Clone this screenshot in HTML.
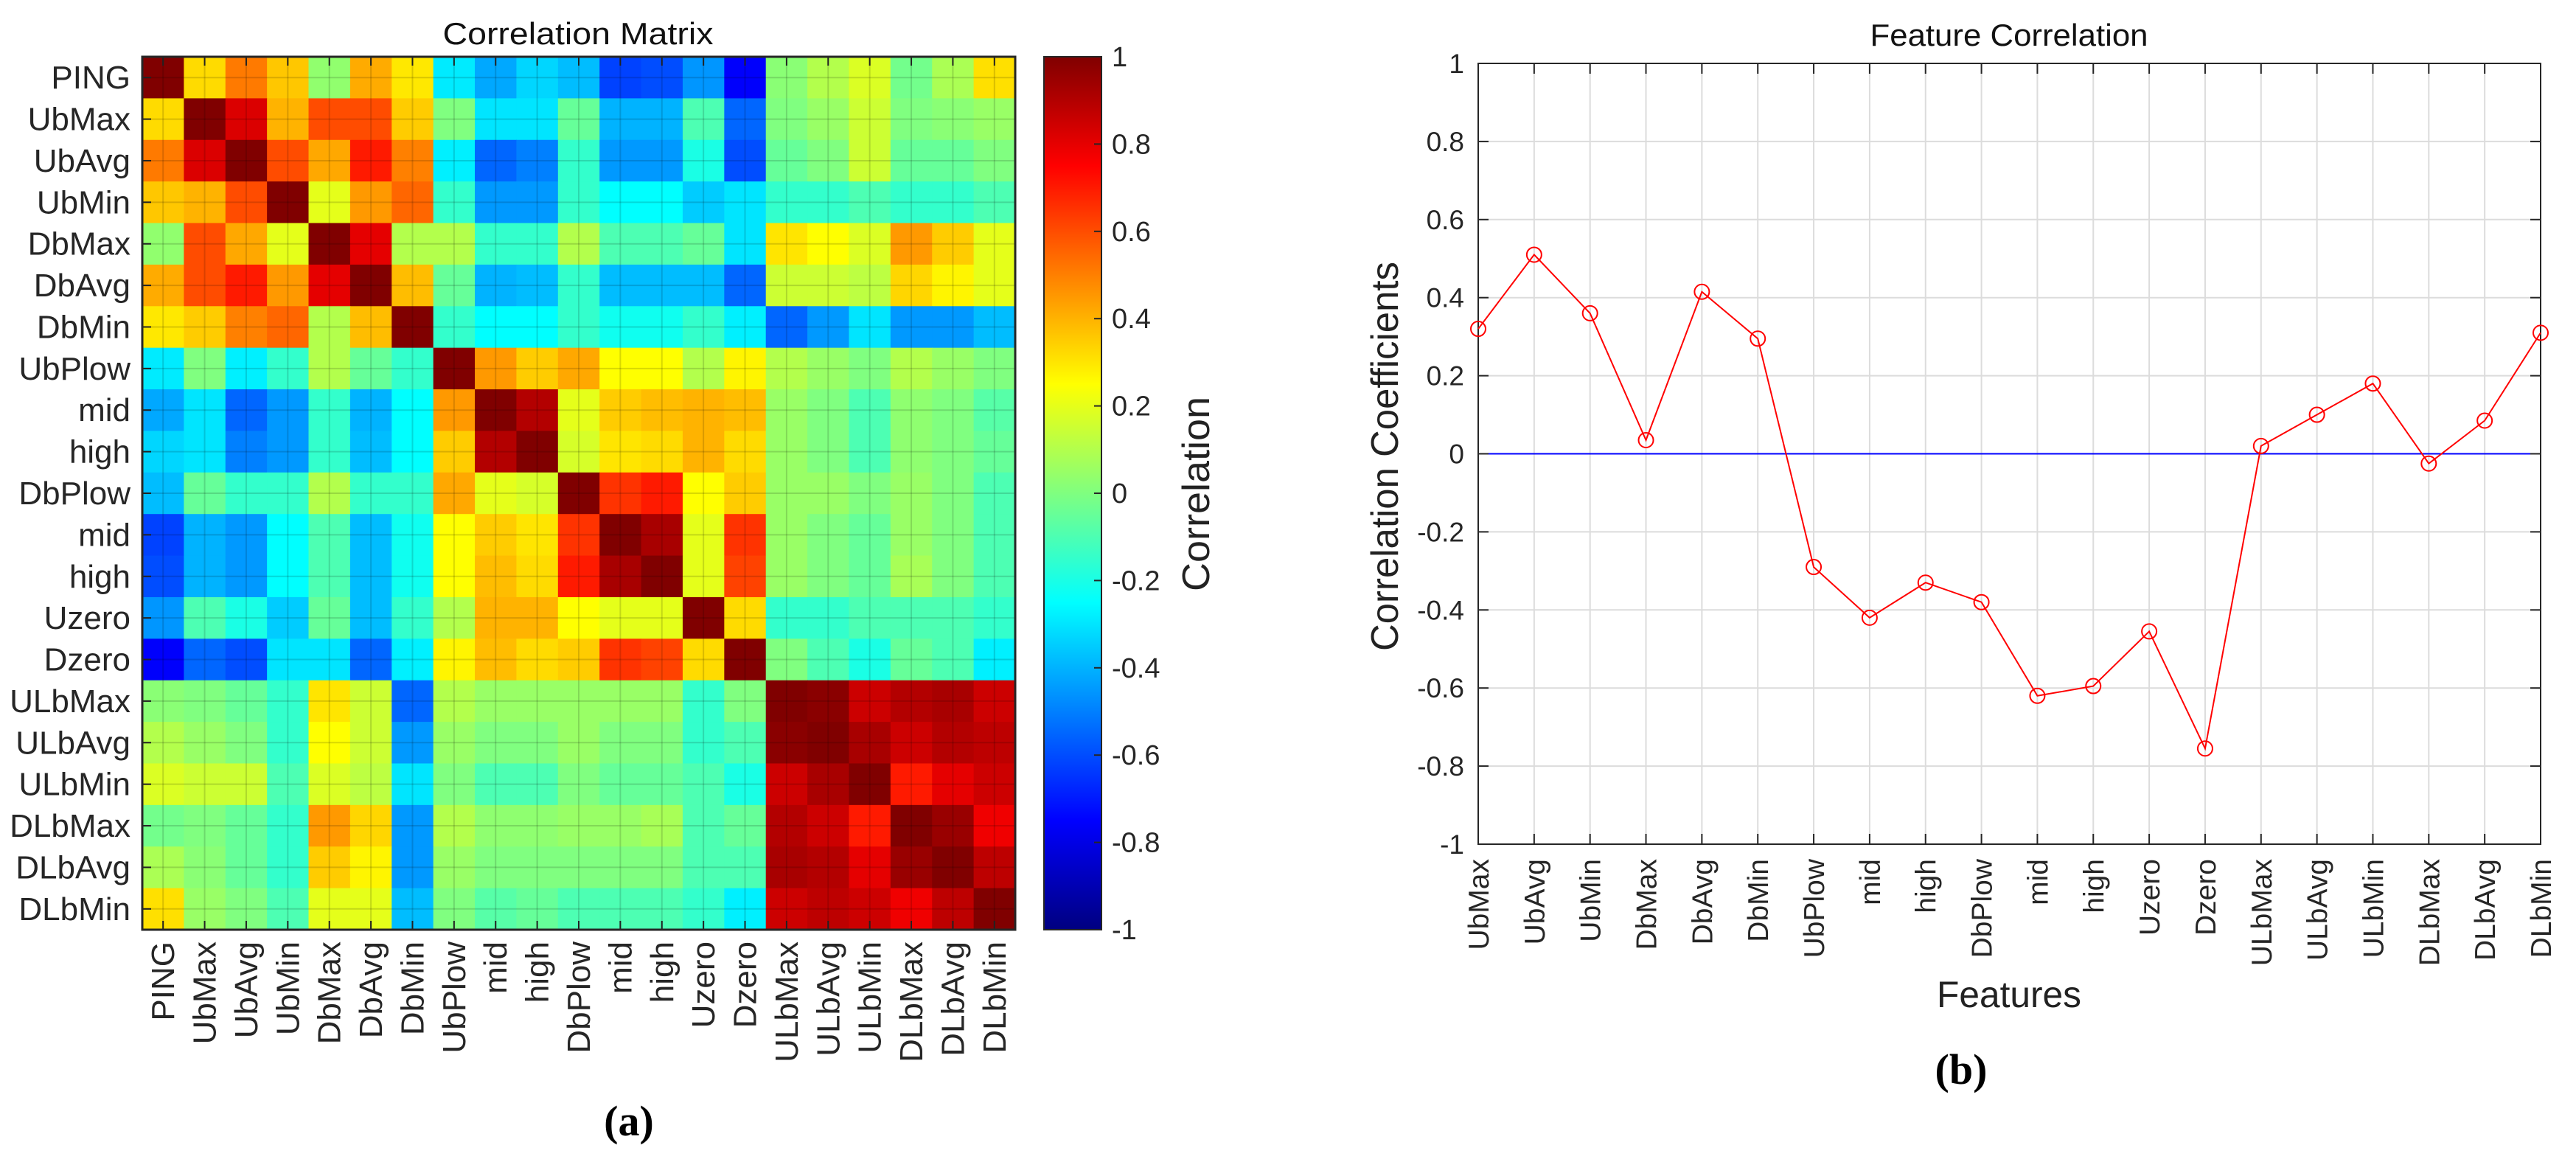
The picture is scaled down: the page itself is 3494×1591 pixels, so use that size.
<!DOCTYPE html>
<html><head><meta charset="utf-8"><style>
html,body{margin:0;padding:0;background:#fff;}
svg{display:block;font-family:"Liberation Sans",Arial,sans-serif;}
</style></head><body>
<svg id="fig" width="3494" height="1591" viewBox="0 0 3494 1591" xmlns="http://www.w3.org/2000/svg">
<defs>
<linearGradient id="jet" x1="0" y1="1" x2="0" y2="0">
<stop offset="0" stop-color="#000080"/><stop offset="0.125" stop-color="#0000ff"/><stop offset="0.375" stop-color="#00ffff"/><stop offset="0.625" stop-color="#ffff00"/><stop offset="0.875" stop-color="#ff0000"/><stop offset="1" stop-color="#800000"/>
</linearGradient>
</defs>
<g id="heat"></g>
<g id="cbar"></g>
<g id="line"></g>
<text x="784" y="60" font-size="42" text-anchor="middle" fill="#111" textLength="367" lengthAdjust="spacingAndGlyphs">Correlation Matrix</text>
<text transform="translate(1640,670) rotate(-90)" font-size="52" text-anchor="middle" fill="#222" textLength="264" lengthAdjust="spacingAndGlyphs">Correlation</text>
<text x="853" y="1540" font-size="58" font-weight="bold" text-anchor="middle" font-family="Liberation Serif,serif">(a)</text>
<text x="2725" y="62" font-size="42" text-anchor="middle" fill="#111" textLength="377" lengthAdjust="spacingAndGlyphs">Feature Correlation</text>
<text transform="translate(1896,619) rotate(-90)" font-size="52" text-anchor="middle" fill="#222" textLength="528" lengthAdjust="spacingAndGlyphs">Correlation Coefficients</text>
<text x="2725" y="1366" font-size="50" text-anchor="middle" fill="#222" textLength="196" lengthAdjust="spacingAndGlyphs">Features</text>
<text x="2660" y="1470" font-size="58" font-weight="bold" text-anchor="middle" font-family="Liberation Serif,serif">(b)</text>
</svg>
<script>
const NS="http://www.w3.org/2000/svg";
const heatLabels=["PING","UbMax","UbAvg","UbMin","DbMax","DbAvg","DbMin","UbPlow","mid","high","DbPlow","mid","high","Uzero","Dzero","ULbMax","ULbAvg","ULbMin","DLbMax","DLbAvg","DLbMin"];
const lowerTri=[
[1],
[.32,1],
[.51,.82,1],
[.36,.4,.6,1],
[.035,.6,.42,.2,1],
[.415,.6,.7,.45,.8,1],
[.295,.35,.5,.55,.1,.38,1],
[-.29,0,-.28,-.15,.1,-.05,-.15,1],
[-.42,-.3,-.55,-.45,-.15,-.4,-.25,.45,1],
[-.33,-.3,-.5,-.45,-.15,-.38,-.25,.35,.9,1],
[-.38,-.05,-.15,-.15,.1,-.15,-.15,.42,.2,.17,1],
[-.62,-.4,-.45,-.25,-.1,-.38,-.22,.25,.35,.3,.65,1],
[-.6,-.4,-.45,-.25,-.1,-.38,-.22,.25,.38,.32,.7,.92,1],
[-.455,-.1,-.2,-.35,-.05,-.38,-.15,.1,.4,.4,.25,.2,.2,1],
[-.755,-.55,-.6,-.3,-.3,-.55,-.28,.27,.38,.32,.35,.65,.62,.32,1],
[.02,0,-.05,-.15,.3,.15,-.55,.1,.05,.05,.05,.05,.05,-.15,0,1],
[.1,.05,0,-.15,.25,.15,-.45,.05,0,0,.05,0,0,-.15,-.1,.98,1],
[.18,.15,.15,-.1,.18,.12,-.3,0,-.1,-.1,0,-.05,-.05,-.1,-.2,.85,.92,1],
[-.025,0,-.05,-.15,.45,.33,-.45,.1,.03,.03,.05,.05,.08,-.1,-.05,.9,.85,.7,1],
[.085,.02,-.05,-.15,.35,.27,-.45,.05,0,0,0,0,0,-.1,-.1,.92,.9,.8,.95,1],
[.31,.05,0,-.1,.2,.2,-.38,0,-.08,-.05,-.1,-.1,-.1,-.15,-.28,.85,.88,.85,.78,.88,1]];
const cbarTicks=[1,0.8,0.6,0.4,0.2,0,-0.2,-0.4,-0.6,-0.8,-1];
const cbarTickLabels=["1","0.8","0.6","0.4","0.2","0","-0.2","-0.4","-0.6","-0.8","-1"];
const featCats=["UbMax","UbAvg","UbMin","DbMax","DbAvg","DbMin","UbPlow","mid","high","DbPlow","mid","high","Uzero","Dzero","ULbMax","ULbAvg","ULbMin","DLbMax","DLbAvg","DLbMin"];
const featValues=[0.32,0.51,0.36,0.035,0.415,0.295,-0.29,-0.42,-0.33,-0.38,-0.62,-0.595,-0.455,-0.755,0.02,0.10,0.18,-0.025,0.085,0.31];
const yTicks=[1,0.8,0.6,0.4,0.2,0,-0.2,-0.4,-0.6,-0.8,-1];
const yTickLabels=["1","0.8","0.6","0.4","0.2","0","-0.2","-0.4","-0.6","-0.8","-1"];

function mk(tag,attrs,parent,text){const e=document.createElementNS(NS,tag);for(const k in attrs)e.setAttribute(k,attrs[k]);if(text!==undefined)e.textContent=text;parent.appendChild(e);return e;}
function jet(v){const t=(v+1)/2;const c=x=>Math.max(0,Math.min(1,x));
 const r=c(Math.min(4*t-1.5,-4*t+4.5)),g=c(Math.min(4*t-0.5,-4*t+3.5)),b=c(Math.min(4*t+0.5,-4*t+2.5));
 return `rgb(${Math.round(r*255)},${Math.round(g*255)},${Math.round(b*255)})`;}
function corr(i,j){return i>=j?lowerTri[i][j]:lowerTri[j][i];}

// heatmap
const heat=document.getElementById('heat');
const HX=193,HY=77,HS=1184,n=heatLabels.length,cs=HS/n;
const hx=j=>HX+j*cs, hy=i=>HY+i*cs;
for(let i=0;i<n;i++)for(let j=0;j<n;j++){
 const r=mk('rect',{x:hx(j),y:hy(i),width:cs+0.6,height:cs+0.6,fill:jet(corr(i,j))},heat);
 
 
}
for(let k=0;k<n;k++){
 const c=hx(k)+cs/2, cy=hy(k)+cs/2;
 mk('line',{x1:c,y1:HY,x2:c,y2:HY+HS,stroke:'#000','stroke-opacity':0.15,'stroke-width':2},heat);
 mk('line',{x1:HX,y1:cy,x2:HX+HS,y2:cy,stroke:'#000','stroke-opacity':0.15,'stroke-width':2},heat);
 mk('line',{x1:HX,y1:cy,x2:HX+12,y2:cy,stroke:'#222','stroke-width':2},heat);
 mk('line',{x1:c,y1:HY+HS,x2:c,y2:HY+HS-12,stroke:'#222','stroke-width':2},heat);
 mk('line',{x1:c,y1:HY,x2:c,y2:HY+12,stroke:'#222','stroke-width':2},heat);
 const yl=mk('text',{x:HX-16,y:cy+15,'font-size':44,'text-anchor':'end',fill:'#262626'},heat,heatLabels[k]);
 
 
 const xl=mk('text',{transform:`translate(${c+15},${HY+HS+16}) rotate(-90)`,'font-size':44,'text-anchor':'end',fill:'#262626'},heat,heatLabels[k]);
 
 
}
mk('rect',{x:HX,y:HY,width:HS,height:HS,fill:'none',stroke:'#262626','stroke-width':3},heat);

// colorbar
const cb=document.getElementById('cbar');
const CX=1416,CW=78,CY=77,CH=1184;
const cyv=v=>CY+(1-v)/2*CH;
mk('rect',{x:CX,y:CY,width:CW,height:CH,fill:'url(#jet)',stroke:'#262626','stroke-width':2},cb);
cbarTicks.forEach((v,k)=>{
 mk('line',{x1:CX+CW-10,y1:cyv(v),x2:CX+CW,y2:cyv(v),stroke:'#262626','stroke-width':2},cb);
 const t=mk('text',{x:1508,y:cyv(v)+13,'font-size':38,fill:'#262626'},cb,cbarTickLabels[k]);
 
 
});

// line chart
const lc=document.getElementById('line');
const PX=2005,PR=3446,PY=86,PB=1145;
const xs=i=>PX+i*(PR-PX)/(featCats.length-1);
const ys=v=>PY+(1-v)/2*(PB-PY);
featCats.forEach((c,i)=>{mk('line',{x1:xs(i),y1:PY,x2:xs(i),y2:PB,stroke:'#dcdcdc','stroke-width':2},lc);});
yTicks.forEach(v=>{mk('line',{x1:PX,y1:ys(v),x2:PR,y2:ys(v),stroke:'#dcdcdc','stroke-width':2},lc);});
mk('line',{x1:PX,y1:ys(0),x2:PR,y2:ys(0),stroke:'#0000ff','stroke-width':2},lc);
mk('rect',{x:PX,y:PY,width:PR-PX,height:PB-PY,fill:'none',stroke:'#262626','stroke-width':2},lc);
yTicks.forEach((v,k)=>{
 mk('line',{x1:PX,y1:ys(v),x2:PX+14,y2:ys(v),stroke:'#262626','stroke-width':2},lc);
 mk('line',{x1:PR,y1:ys(v),x2:PR-14,y2:ys(v),stroke:'#262626','stroke-width':2},lc);
 const t=mk('text',{x:1986,y:ys(v)+13,'font-size':37,'text-anchor':'end',fill:'#262626'},lc,yTickLabels[k]);
 
 
});
featCats.forEach((c,i)=>{
 mk('line',{x1:xs(i),y1:PB,x2:xs(i),y2:PB-14,stroke:'#262626','stroke-width':2},lc);
 mk('line',{x1:xs(i),y1:PY,x2:xs(i),y2:PY+14,stroke:'#262626','stroke-width':2},lc);
 const t=mk('text',{transform:`translate(${xs(i)+14},${PB+20}) rotate(-90)`,'font-size':39,'text-anchor':'end',fill:'#262626'},lc,c);
 
 
});
const pts=featValues.map((v,i)=>xs(i)+','+ys(v)).join(' ');
const pl=mk('polyline',{points:pts,fill:'none',stroke:'#ff0000','stroke-width':2},lc);


featValues.forEach((v,i)=>{
 const m=mk('circle',{cx:xs(i),cy:ys(v),r:10,fill:'none',stroke:'#ff0000','stroke-width':2},lc);
 
 
});
</script>
</body></html>
